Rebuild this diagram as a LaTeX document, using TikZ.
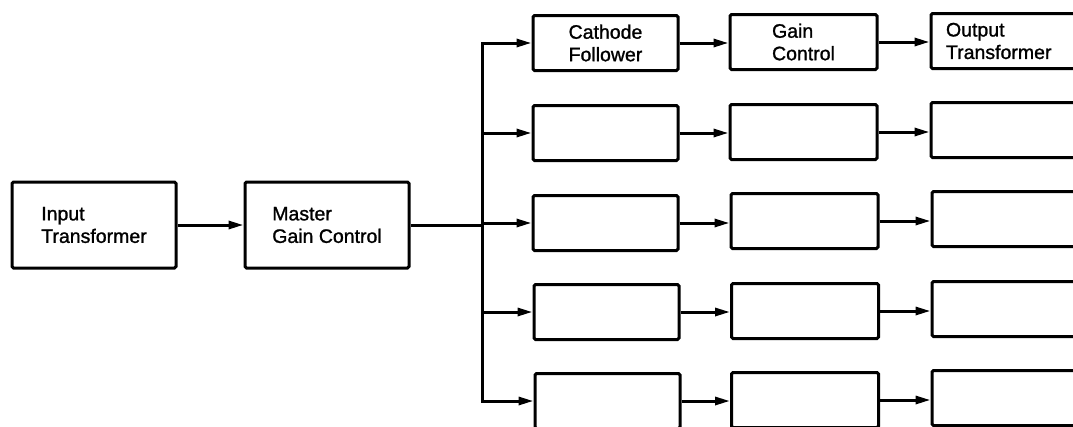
\documentclass[tikz,border=0pt]{standalone}
\usepackage{fontspec}
\setmainfont{Liberation Sans}
\newfontfamily\heavy{Liberation Sans}[FakeBold=1.2]
\usetikzlibrary{arrows.meta}
\begin{document}
\begin{tikzpicture}[x=1pt,y=-1pt,
  blk/.style={draw, line width=3pt, rounded corners=1.5pt, align=left, inner sep=0pt,
    minimum height=55pt, font=\heavy\fontsize{19.5}{22.5}\selectfont},
  bigblk/.style={blk, minimum width=164pt, minimum height=86pt},
  c1/.style={blk, minimum width=145pt},
  c2/.style={blk, minimum width=147pt},
  c3/.style={blk, text width=130pt, inner xsep=15pt},
  conn/.style={line width=3pt},
  arr/.style={conn, -{Triangle[length=15pt,width=8pt]}}]
\useasboundingbox (0,0) rectangle (1073,426);
\clip (0,0) rectangle (1073,426);
% main chain
\node[bigblk] (inp) at (94,225) {Input\\Transformer};
\node[bigblk] (mgc) at (327,225) {Master\\Gain Control};
% column 1
\node[c1] (r1a) at (605.5,43) {Cathode\\Follower};
\node[c1] (r2a) at (605.5,133) {};
\node[c1] (r3a) at (605.5,223) {};
\node[c1] (r4a) at (606.5,312) {};
\node[c1] (r5a) at (607.5,401) {};
% column 2
\node[c2] (r1b) at (803.5,42) {Gain\\Control};
\node[c2] (r2b) at (803.5,132) {};
\node[c2] (r3b) at (804.5,221) {};
\node[c2] (r4b) at (805,311) {};
\node[c2] (r5b) at (805,400) {};
% column 3
\node[c3] (r1c) at (1011,41) {Output\\Transformer};
\node[c3] (r2c) at (1011,130) {\strut};
\node[c3] (r3c) at (1012,219) {\strut};
\node[c3] (r4c) at (1012,309) {\strut};
\node[c3] (r5c) at (1012,398) {\strut};
% bus
\coordinate (b1) at (482,43);
\coordinate (b2) at (482,133);
\coordinate (b3) at (482,223);
\coordinate (b4) at (482,312);
\coordinate (b5) at (482,401);
\draw[conn, line cap=rect] (b1) -- (b5);
% connectors
\draw[arr] (inp) -- (mgc);
\draw[conn] (mgc.east) -- (mgc.east -| b3) -- (b3);
\draw[arr] (b3) -- (r3a.west);
\draw[arr] (b1) -- (r1a.west);
\draw[arr] (b2) -- (r2a.west);
\draw[arr] (b4) -- (r4a.west);
\draw[arr] (b5) -- (r5a.west);
\foreach \r in {1,...,5}{
  \draw[arr] (r\r a.east) -- (r\r a.east -| r\r b.west);
  \draw[arr] (r\r b.east) -- (r\r b.east -| r\r c.west);
}
\end{tikzpicture}
\end{document}
